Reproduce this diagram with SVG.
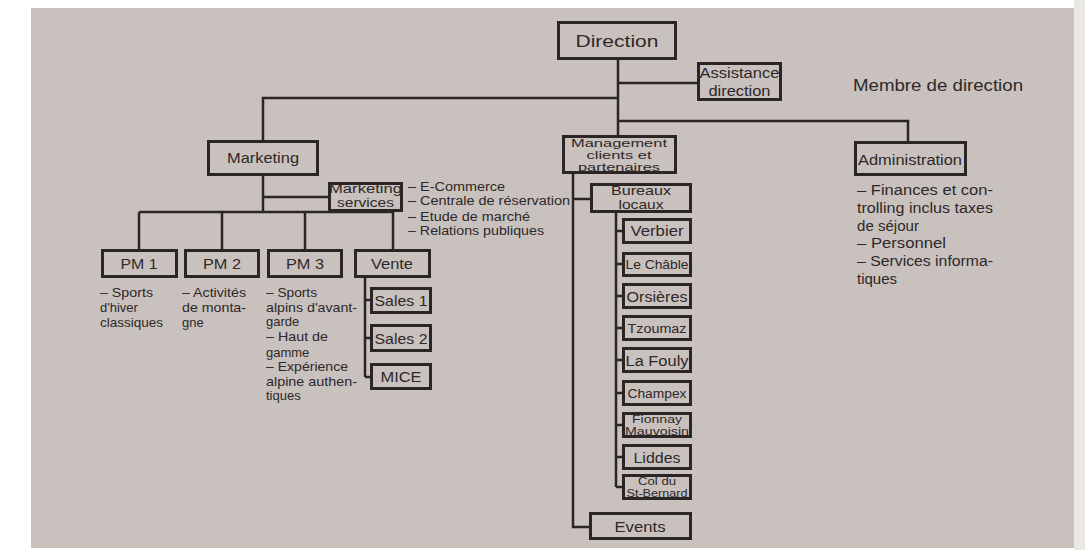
<svg xmlns="http://www.w3.org/2000/svg" width="1085" height="550" viewBox="0 0 1085 550">
<style>
.bx{fill:#c9c1be;stroke:#2b2525;stroke-width:3}
.ln{fill:none;stroke:#2b2525;stroke-width:2.5}
text{font-family:"Liberation Sans",Arial,sans-serif;fill:#2e2828}
.c{text-anchor:middle}
.f17{font-size:17px}.f16{font-size:16px}.f15{font-size:15px}.f14{font-size:14px}.f13{font-size:13px}.f12{font-size:12px}.f11{font-size:11px}
</style>
<rect x="0" y="0" width="1085" height="550" fill="#ffffff"/>
<rect x="1074" y="0" width="11" height="550" fill="#e9e8e4"/>
<rect x="31" y="8" width="1043" height="540" fill="#c9c1be"/>

<g id="connectors">
<path class="ln" d="M618 60 V135"/>
<path class="ln" d="M618 83 H697"/>
<path class="ln" d="M618 98 H263 V140"/>
<path class="ln" d="M618 121 H908 V141"/>
<path class="ln" d="M263 176 V212"/>
<path class="ln" d="M263 197 H328"/>
<path class="ln" d="M139 212 H393"/>
<path class="ln" d="M139 212 V249 M222 212 V249 M305 212 V249 M393 212 V249"/>
<path class="ln" d="M365 278 V377 M365 300 H370 M365 338 H370 M365 377 H370"/>
<path class="ln" d="M573 174 V527 H589 M573 199 H590"/>
<path class="ln" d="M616 213 V487 M616 231 H622 M616 264 H622 M616 296 H622 M616 328 H622 M616 360 H622 M616 393 H622 M616 425 H622 M616 457 H622 M616 487 H622"/>
</g>

<g id="direction"><rect class="bx" x="558.5" y="22.5" width="117" height="36"/><text class="c f17" x="617" y="47" textLength="83" lengthAdjust="spacingAndGlyphs">Direction</text></g>
<g id="assistance"><rect class="bx" x="698.5" y="63.5" width="82" height="36"/><text class="c f14" x="739.5" y="78" textLength="80" lengthAdjust="spacingAndGlyphs">Assistance</text><text class="c f14" x="739.5" y="96" textLength="62" lengthAdjust="spacingAndGlyphs">direction</text></g>
<g id="membre"><text class="f16" x="853" y="91" textLength="170" lengthAdjust="spacingAndGlyphs">Membre de direction</text></g>

<g id="marketing"><rect class="bx" x="208.5" y="141.5" width="109" height="33"/><text class="c f15" x="263" y="163" textLength="72" lengthAdjust="spacingAndGlyphs">Marketing</text></g>
<g id="marketing-services"><rect class="bx" x="329.5" y="183.5" width="72" height="27"/><text class="c f12" x="365.5" y="193" textLength="73" lengthAdjust="spacingAndGlyphs">Marketing</text><text class="c f12" x="365.5" y="207" textLength="57" lengthAdjust="spacingAndGlyphs">services</text>
<text class="f12" x="408" y="191" textLength="97" lengthAdjust="spacingAndGlyphs">– E-Commerce</text>
<text class="f12" x="408" y="205" textLength="162" lengthAdjust="spacingAndGlyphs">– Centrale de réservation</text>
<text class="f12" x="408" y="221" textLength="122" lengthAdjust="spacingAndGlyphs">– Etude de marché</text>
<text class="f12" x="408" y="235" textLength="136" lengthAdjust="spacingAndGlyphs">– Relations publiques</text></g>

<g id="pm1"><rect class="bx" x="102.5" y="250.5" width="74" height="26"/><text class="c f15" x="139" y="269" textLength="37" lengthAdjust="spacingAndGlyphs">PM 1</text>
<text class="f13" x="100" y="297" textLength="53" lengthAdjust="spacingAndGlyphs">– Sports</text><text class="f13" x="100" y="312">d'hiver</text><text class="f13" x="100" y="327" textLength="63" lengthAdjust="spacingAndGlyphs">classiques</text></g>
<g id="pm2"><rect class="bx" x="185.5" y="250.5" width="73" height="26"/><text class="c f15" x="222" y="269" textLength="38" lengthAdjust="spacingAndGlyphs">PM 2</text>
<text class="f13" x="182" y="297" textLength="64" lengthAdjust="spacingAndGlyphs">– Activités</text><text class="f13" x="182" y="312" textLength="64" lengthAdjust="spacingAndGlyphs">de monta-</text><text class="f13" x="182" y="327">gne</text></g>
<g id="pm3"><rect class="bx" x="268.5" y="250.5" width="73" height="26"/><text class="c f15" x="305" y="269" textLength="38" lengthAdjust="spacingAndGlyphs">PM 3</text>
<text class="f13" x="266" y="297" textLength="51" lengthAdjust="spacingAndGlyphs">– Sports</text><text class="f13" x="266" y="312" textLength="91" lengthAdjust="spacingAndGlyphs">alpins d'avant-</text><text class="f13" x="266" y="326">garde</text><text class="f13" x="266" y="341" textLength="62" lengthAdjust="spacingAndGlyphs">– Haut de</text><text class="f13" x="266" y="357">gamme</text><text class="f13" x="266" y="371" textLength="82" lengthAdjust="spacingAndGlyphs">– Expérience</text><text class="f13" x="266" y="386" textLength="91" lengthAdjust="spacingAndGlyphs">alpine authen-</text><text class="f13" x="266" y="400">tiques</text></g>
<g id="vente"><rect class="bx" x="355.5" y="250.5" width="74" height="26"/><text class="c f15" x="392" y="269" textLength="42" lengthAdjust="spacingAndGlyphs">Vente</text></g>
<g id="sales1"><rect class="bx" x="371.5" y="288.5" width="59" height="24"/><text class="c f15" x="401" y="306" textLength="53" lengthAdjust="spacingAndGlyphs">Sales 1</text></g>
<g id="sales2"><rect class="bx" x="371.5" y="325.5" width="59" height="25"/><text class="c f15" x="401" y="344" textLength="53" lengthAdjust="spacingAndGlyphs">Sales 2</text></g>
<g id="mice"><rect class="bx" x="371.5" y="364.5" width="59" height="24"/><text class="c f15" x="401" y="382" textLength="41" lengthAdjust="spacingAndGlyphs">MICE</text></g>

<g id="management"><rect class="bx" x="563.5" y="136.5" width="112" height="36"/><text class="c f11" x="619" y="147" textLength="96" lengthAdjust="spacingAndGlyphs">Management</text><text class="c f11" x="619" y="159" textLength="65" lengthAdjust="spacingAndGlyphs">clients et</text><text class="c f11" x="619" y="171" textLength="82" lengthAdjust="spacingAndGlyphs">partenaires</text></g>
<g id="bureaux"><rect class="bx" x="591.5" y="184.5" width="99" height="27"/><text class="c f13" x="641" y="195" textLength="60" lengthAdjust="spacingAndGlyphs">Bureaux</text><text class="c f13" x="641" y="209" textLength="45" lengthAdjust="spacingAndGlyphs">locaux</text></g>
<g id="verbier"><rect class="bx" x="623.5" y="219.5" width="67" height="23"/><text class="c f14" x="657" y="236" textLength="53" lengthAdjust="spacingAndGlyphs">Verbier</text></g>
<g id="le-chable"><rect class="bx" x="623.5" y="253.5" width="67" height="22"/><text class="c f12" x="657" y="269" textLength="63" lengthAdjust="spacingAndGlyphs">Le Châble</text></g>
<g id="orsieres"><rect class="bx" x="623.5" y="284.5" width="67" height="23"/><text class="c f14" x="657" y="302" textLength="61" lengthAdjust="spacingAndGlyphs">Orsières</text></g>
<g id="tzoumaz"><rect class="bx" x="623.5" y="316.5" width="67" height="23"/><text class="c f12" x="657" y="333" textLength="59" lengthAdjust="spacingAndGlyphs">Tzoumaz</text></g>
<g id="la-fouly"><rect class="bx" x="623.5" y="348.5" width="67" height="23"/><text class="c f14" x="657" y="366" textLength="63" lengthAdjust="spacingAndGlyphs">La Fouly</text></g>
<g id="champex"><rect class="bx" x="623.5" y="381.5" width="67" height="23"/><text class="c f12" x="657" y="398" textLength="59" lengthAdjust="spacingAndGlyphs">Champex</text></g>
<g id="fionnay"><rect class="bx" x="623.5" y="413.5" width="67" height="23"/><text class="c f11" x="657" y="423" textLength="50" lengthAdjust="spacingAndGlyphs">Fionnay</text><text class="c f11" x="657" y="435" textLength="64" lengthAdjust="spacingAndGlyphs">Mauvoisin</text></g>
<g id="liddes"><rect class="bx" x="623.5" y="445.5" width="67" height="23"/><text class="c f14" x="657" y="463" textLength="47" lengthAdjust="spacingAndGlyphs">Liddes</text></g>
<g id="col-du-st-bernard"><rect class="bx" x="623.5" y="475.5" width="67" height="23"/><text class="c f11" x="657" y="485" textLength="38" lengthAdjust="spacingAndGlyphs">Col du</text><text class="c f11" x="657" y="497" textLength="61" lengthAdjust="spacingAndGlyphs">St-Bernard</text></g>
<g id="events"><rect class="bx" x="590.5" y="513.5" width="100" height="25"/><text class="c f14" x="640" y="532" textLength="51" lengthAdjust="spacingAndGlyphs">Events</text></g>

<g id="administration"><rect class="bx" x="855.5" y="142.5" width="110" height="32"/><text class="c f14" x="910" y="165" textLength="104" lengthAdjust="spacingAndGlyphs">Administration</text>
<text class="f14" x="857" y="195" textLength="136" lengthAdjust="spacingAndGlyphs">– Finances et con-</text>
<text class="f14" x="857" y="213" textLength="136" lengthAdjust="spacingAndGlyphs">trolling inclus taxes</text>
<text class="f14" x="857" y="231" textLength="62" lengthAdjust="spacingAndGlyphs">de séjour</text>
<text class="f14" x="857" y="248" textLength="89" lengthAdjust="spacingAndGlyphs">– Personnel</text>
<text class="f14" x="857" y="266" textLength="136" lengthAdjust="spacingAndGlyphs">– Services informa-</text>
<text class="f15" x="857" y="284">tiques</text></g>
</svg>
